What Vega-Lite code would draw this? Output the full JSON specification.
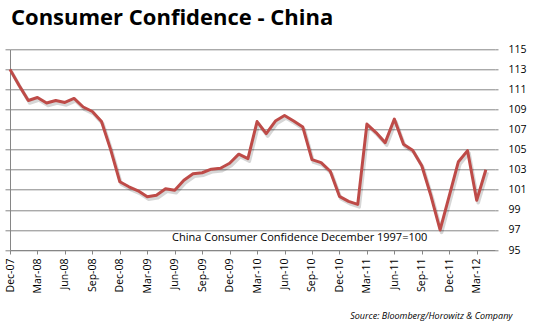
{
  "$schema": "https://vega.github.io/schema/vega-lite/v6.json",
  "width": 485,
  "height": 200.7,
  "autosize": {"type": "none"},
  "padding": {"left": 10, "top": 49.3, "right": 44, "bottom": 81},
  "background": "white",
  "title": {
    "text": "Consumer Confidence - China",
    "anchor": "start",
    "frame": "group",
    "font": "Open Sans",
    "fontSize": 22,
    "fontWeight": "bold",
    "color": "#000000",
    "baseline": "alphabetic",
    "offset": 25,
    "dx": 1,
    "dy": 28
  },
  "config": {
    "view": {"stroke": null},
    "axis": {"labelFont": "Open Sans", "titleFont": "Open Sans", "labelColor": "#000000", "titleColor": "#000000"}
  },
  "data": {
    "values": [
      {"month": "Dec-07", "value": 113.0},
      {"month": "Jan-08", "value": 111.4},
      {"month": "Feb-08", "value": 109.9},
      {"month": "Mar-08", "value": 110.2},
      {"month": "Apr-08", "value": 109.65},
      {"month": "May-08", "value": 109.9},
      {"month": "Jun-08", "value": 109.7},
      {"month": "Jul-08", "value": 110.1},
      {"month": "Aug-08", "value": 109.25},
      {"month": "Sep-08", "value": 108.8},
      {"month": "Oct-08", "value": 107.8},
      {"month": "Nov-08", "value": 105.0},
      {"month": "Dec-08", "value": 101.8},
      {"month": "Jan-09", "value": 101.3},
      {"month": "Feb-09", "value": 100.9},
      {"month": "Mar-09", "value": 100.3},
      {"month": "Apr-09", "value": 100.45},
      {"month": "May-09", "value": 101.1},
      {"month": "Jun-09", "value": 100.95},
      {"month": "Jul-09", "value": 101.95},
      {"month": "Aug-09", "value": 102.6},
      {"month": "Sep-09", "value": 102.7},
      {"month": "Oct-09", "value": 103.05},
      {"month": "Nov-09", "value": 103.15},
      {"month": "Dec-09", "value": 103.65},
      {"month": "Jan-10", "value": 104.55},
      {"month": "Feb-10", "value": 104.1},
      {"month": "Mar-10", "value": 107.8},
      {"month": "Apr-10", "value": 106.6},
      {"month": "May-10", "value": 107.85},
      {"month": "Jun-10", "value": 108.4},
      {"month": "Jul-10", "value": 107.85},
      {"month": "Aug-10", "value": 107.25},
      {"month": "Sep-10", "value": 104.0},
      {"month": "Oct-10", "value": 103.7},
      {"month": "Nov-10", "value": 102.85},
      {"month": "Dec-10", "value": 100.35},
      {"month": "Jan-11", "value": 99.85},
      {"month": "Feb-11", "value": 99.55},
      {"month": "Mar-11", "value": 107.55},
      {"month": "Apr-11", "value": 106.7},
      {"month": "May-11", "value": 105.7},
      {"month": "Jun-11", "value": 108.05},
      {"month": "Jul-11", "value": 105.55},
      {"month": "Aug-11", "value": 104.95},
      {"month": "Sep-11", "value": 103.4},
      {"month": "Oct-11", "value": 100.4},
      {"month": "Nov-11", "value": 97.0},
      {"month": "Dec-11", "value": 100.4},
      {"month": "Jan-12", "value": 103.8},
      {"month": "Feb-12", "value": 104.9},
      {"month": "Mar-12", "value": 99.95},
      {"month": "Apr-12", "value": 103.0}
    ]
  },
  "encoding": {
    "x": {
      "field": "month",
      "type": "ordinal",
      "scale": {
        "type": "point",
        "padding": 0,
        "domain": ["Dec-07","Jan-08","Feb-08","Mar-08","Apr-08","May-08","Jun-08","Jul-08","Aug-08","Sep-08","Oct-08","Nov-08","Dec-08","Jan-09","Feb-09","Mar-09","Apr-09","May-09","Jun-09","Jul-09","Aug-09","Sep-09","Oct-09","Nov-09","Dec-09","Jan-10","Feb-10","Mar-10","Apr-10","May-10","Jun-10","Jul-10","Aug-10","Sep-10","Oct-10","Nov-10","Dec-10","Jan-11","Feb-11","Mar-11","Apr-11","May-11","Jun-11","Jul-11","Aug-11","Sep-11","Oct-11","Nov-11","Dec-11","Jan-12","Feb-12","Mar-12","Apr-12","May-12"]
      },
      "axis": {
        "values": ["Dec-07","Mar-08","Jun-08","Sep-08","Dec-08","Mar-09","Jun-09","Sep-09","Dec-09","Mar-10","Jun-10","Sep-10","Dec-10","Mar-11","Jun-11","Sep-11","Dec-11","Mar-12"],
        "labelAngle": -90,
        "labelFontSize": 10.5,
        "tickSize": 4,
        "labelPadding": 4,
        "tickColor": "#868686",
        "domainColor": "#868686",
        "grid": false,
        "title": "Source: Bloomberg/Horowitz  & Company",
        "titleFontStyle": "italic",
        "titleFontWeight": "normal",
        "titleFontSize": 9,
        "titleAnchor": "end",
        "titleAlign": "right",
        "titleBaseline": "alphabetic",
        "titleX": 502,
        "titleY": 68
      }
    }
  },
  "layer": [
    {
      "mark": {"type": "line", "stroke": "#000000", "strokeOpacity": 0.16, "strokeWidth": 3.5, "xOffset": 1.5, "yOffset": 2.5, "strokeJoin": "round"},
      "encoding": {
        "y": {"field": "value", "type": "quantitative", "scale": {"domain": [95, 115]}, "axis": null}
      }
    },
    {
      "mark": {"type": "line", "stroke": "#BE4B48", "strokeWidth": 3, "strokeJoin": "round"},
      "encoding": {
        "y": {
          "field": "value",
          "type": "quantitative",
          "scale": {"domain": [95, 115]},
          "axis": {
            "orient": "right",
            "values": [95, 97, 99, 101, 103, 105, 107, 109, 111, 113, 115],
            "grid": true,
            "gridColor": "#868686",
            "gridOpacity": 1,
            "domain": false,
            "tickSize": 3,
            "tickColor": "#868686",
            "labelPadding": 10,
            "labelFontSize": 10.5,
            "title": null
          }
        }
      }
    },
    {
      "data": {"values": [{"month": "Jul-10", "value": 96.15, "label": "China Consumer Confidence December 1997=100"}]},
      "mark": {"type": "text", "font": "Open Sans", "fontSize": 11, "color": "#000000", "align": "center", "baseline": "middle", "dx": 6},
      "encoding": {
        "text": {"field": "label"},
        "y": {
          "field": "value",
          "type": "quantitative",
          "scale": {"domain": [95, 115]},
          "axis": {
            "orient": "left",
            "values": [95, 97, 99, 101, 103, 105, 107, 109, 111, 113, 115],
            "labels": false,
            "grid": false,
            "tickSize": 5,
            "tickColor": "#868686",
            "domain": true,
            "domainColor": "#868686",
            "title": null
          }
        }
      }
    }
  ],
  "resolve": {"axis": {"y": "independent"}}
}
